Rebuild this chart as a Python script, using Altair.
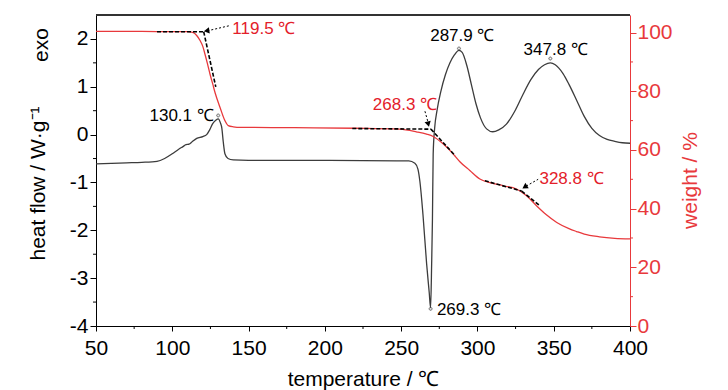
import altair as alt
import pandas as pd

# ---------------- data ----------------
hf_temp = [50, 60, 70, 80, 90, 95, 100, 104, 107, 109, 111, 113, 116, 120, 122.5, 124.5,
           126.5, 128.5, 130.1, 131.5, 132.5, 133.4, 134.5, 136.5, 140, 150, 200, 250, 255,
           259, 261, 262.3, 264.3, 266.7, 268.4, 269.3, 270, 270.5, 271, 272, 273.5, 276,
           279, 282, 285, 287.9, 290, 293, 296, 299, 302, 306, 310, 314, 319, 325, 330, 335,
           340, 344, 347.8, 351, 356, 360, 365, 370, 375, 380, 385, 390, 395, 400]
hf_val = [-0.61, -0.60, -0.59, -0.58, -0.56, -0.50, -0.40, -0.31, -0.25, -0.21, -0.20, -0.15,
          -0.08, -0.04, 0.0, 0.10, 0.23, 0.30, 0.33, 0.25, 0.13, -0.15, -0.40, -0.50, -0.53,
          -0.54, -0.54, -0.55, -0.55, -0.60, -0.72, -0.98, -1.67, -2.70, -3.30, -3.62, -2.70,
          -1.80, -0.40, 0.15, 0.50, 0.90, 1.25, 1.50, 1.67, 1.76, 1.72, 1.45, 1.05, 0.65, 0.35,
          0.12, 0.06, 0.10, 0.22, 0.52, 0.85, 1.15, 1.36, 1.46, 1.50, 1.46, 1.28, 1.05, 0.72,
          0.38, 0.13, -0.02, -0.10, -0.14, -0.17, -0.18]

wt_temp = [50, 80, 100, 110, 113.8, 116, 118.2, 120, 121.4, 123, 124.7, 126.5, 128, 131.3,
           134.5, 136.7, 140, 145, 180, 220, 249, 260, 266.7, 271, 277.7, 284.2, 288.5, 295,
           301.6, 308.2, 316.9, 325.6, 332.2, 338.7, 345, 352, 360, 365, 370, 380, 390, 400]
wt_val = [100.4, 100.4, 100.3, 100.3, 100.0, 99.0, 97.3, 95.3, 92.7, 89.5, 85.9, 82.5, 79.6,
          74.5, 70.0, 68.3, 67.9, 67.7, 67.6, 67.4, 67.1, 66.2, 65.4, 64.6, 62.0, 58.6, 56.0,
          53.0, 50.1, 48.9, 47.8, 46.7, 44.4, 41.0, 38.0, 35.3, 33.2, 32.2, 31.3, 30.4, 29.9,
          29.7]

# onset tangent constructions (weight scale)
tan_seg = ["a", "a", "b", "b", "c", "c", "d", "d", "e", "e", "f", "f"]
tan_temp = [90, 120.6, 120.6, 128.5, 218, 269.5, 269.5, 285.5, 304.9, 329, 329, 341]
tan_wt = [100.3, 100.3, 100.3, 81.5, 67.3, 67.1, 67.1, 58.0, 49.5, 46.0, 46.0, 41.0]

# arrows (weight scale)
arr_seg = ["a", "a", "b", "b", "c", "c"]
arr_temp = [137.8, 123.0, 265.6, 267.6, 339.8, 332.0]
arr_wt = [102.4, 100.6, 73.2, 69.5, 50.0, 47.7]
head_temp = [122.5, 267.8, 331.0]
head_wt = [100.6, 68.8, 47.4]
head_ang = [262, 166, 238]

# labels
red_lab = ["119.5 ℃", "268.3 ℃", "328.8 ℃"]
red_temp = [160.0, 252.5, 361.7]
red_wt = [101.3, 75.4, 50.0]

blk_lab = ["130.1 ℃", "287.9 ℃", "347.8 ℃", "269.3 ℃"]
blk_temp = [106.1, 290.1, 351.3, 294.5]
blk_hf = [0.38, 2.06, 1.77, -3.67]

mark_temp = [130.1, 287.9, 347.8, 269.3]
mark_hf = [0.40, 1.80, 1.59, -3.64]

x_minor = [75, 125, 175, 225, 275, 325, 375]
hf_minor = [-3.5, -2.5, -1.5, -0.5, 0.5, 1.5]
wt_minor = [10, 30, 50, 70, 90]

# ---------------- styling ----------------
AX_FONT = "Liberation Sans, Arial"
TXT_FONT = "Liberation Sans, Arial"
BLACK = "#3c3c3c"
RED = "#e8393c"
RED_TXT = "#e3202a"
W, H = 534, 311
AX_FS = 21
MINUS = "replace(datum.label, '\u2212', '-')"

xs = alt.Scale(domain=[50, 400], nice=False, zero=False)
hs = alt.Scale(domain=[-4, 2.5], nice=False, zero=False)
ws = alt.Scale(domain=[0, 106], nice=False, zero=False)

x_axis = alt.Axis(values=[50, 100, 150, 200, 250, 300, 350, 400], title="temperature / ℃",
                  grid=False, domainColor="black", tickColor="black", tickSize=5,
                  labelFont=AX_FONT, labelFontSize=AX_FS, labelColor="black", labelPadding=6,
                  labelFlush=False, labelOverlap=False,
                  titleFont=AX_FONT, titleFontSize=AX_FS, titleFontWeight="normal",
                  titleColor="black", titleY=53, titleBaseline="middle")

hf_df = pd.DataFrame({"temp": hf_temp, "hf": hf_val})
wt_df = pd.DataFrame({"temp": wt_temp, "wt": wt_val})
tan_df = pd.DataFrame({"temp": tan_temp, "wt": tan_wt, "seg": tan_seg})
arr_df = pd.DataFrame({"temp": arr_temp, "wt": arr_wt, "seg": arr_seg})
head_df = pd.DataFrame({"temp": head_temp, "wt": head_wt, "ang": head_ang})
red_df = pd.DataFrame({"temp": red_temp, "wt": red_wt, "lab": red_lab})
blk_df = pd.DataFrame({"temp": blk_temp, "hf": blk_hf, "lab": blk_lab})
mk_df = pd.DataFrame({"temp": mark_temp, "hf": mark_hf})
xm_df = pd.DataFrame({"temp": x_minor})
hm_df = pd.DataFrame({"hf": hf_minor})
wm_df = pd.DataFrame({"wt": wt_minor})

# ---------------- heat flow (left axis) ----------------
hf_line = alt.Chart(hf_df).mark_line(color=BLACK, strokeWidth=1.3, interpolate="monotone").encode(
    x=alt.X("temp:Q", scale=xs, axis=x_axis),
    y=alt.Y("hf:Q", scale=hs,
            axis=alt.Axis(values=[-4, -3, -2, -1, 0, 1, 2], title="heat flow / W·g⁻¹",
                          orient="left", grid=False, domainColor="black", tickColor="black",
                          tickSize=6, labelFont=AX_FONT, labelFontSize=AX_FS, labelColor="black",
                          labelPadding=2, labelExpr=MINUS, labelFlush=False,
                          titleFont=AX_FONT, titleFontSize=AX_FS,
                          titleFontWeight="normal", titleColor="black", titleX=-58, titleY=168,
                          titleBaseline="middle", titleAlign="center", titleAngle=270)),
)
hf_marks = alt.Chart(mk_df).mark_point(shape="cross", size=10, color=BLACK, strokeWidth=0.8).encode(
    x=alt.X("temp:Q", scale=xs), y=alt.Y("hf:Q", scale=hs))
hf_text = alt.Chart(blk_df).mark_text(font=TXT_FONT, fontSize=17, color="black",
                                      baseline="middle", align="center").encode(
    x=alt.X("temp:Q", scale=xs), y=alt.Y("hf:Q", scale=hs), text="lab:N")
hf_minor_t = alt.Chart(hm_df).mark_rule(color="black").encode(
    y=alt.Y("hf:Q", scale=hs), x=alt.value(-3), x2=alt.value(0))
x_minor_t = alt.Chart(xm_df).mark_rule(color="black").encode(
    x=alt.X("temp:Q", scale=xs), y=alt.value(H), y2=alt.value(H + 3))
top_border = alt.Chart(xm_df).mark_rule(color="#333333").encode(
    x=alt.value(0), x2=alt.value(W), y=alt.value(0))
exo = alt.Chart(xm_df.head(1)).mark_text(text="exo", font=AX_FONT, fontSize=AX_FS, angle=270,
                                         color="black", baseline="middle").encode(
    x=alt.value(-54), y=alt.value(30))

heat = alt.layer(hf_line, hf_marks, hf_text, hf_minor_t, x_minor_t, top_border, exo)

# ---------------- weight (right axis) ----------------
wt_line = alt.Chart(wt_df).mark_line(color=RED, strokeWidth=1.3, interpolate="monotone").encode(
    x=alt.X("temp:Q", scale=xs),
    y=alt.Y("wt:Q", scale=ws,
            axis=alt.Axis(values=[0, 20, 40, 60, 80, 100], title="weight / %", orient="right",
                          grid=False, domainColor=RED, tickColor=RED, tickSize=6,
                          labelFont=AX_FONT, labelFontSize=AX_FS, labelColor=RED, labelPadding=1,
                          labelFlush=False,
                          titleFont=AX_FONT, titleFontSize=AX_FS, titleFontWeight="normal",
                          titleColor=RED, titleX=60, titleY=165, titleBaseline="middle",
                          titleAlign="center", titleAngle=270)),
)
tan_lines = alt.Chart(tan_df).mark_line(color="black", strokeWidth=1.6, strokeDash=[4, 2]).encode(
    x=alt.X("temp:Q", scale=xs), y=alt.Y("wt:Q", scale=ws), detail="seg:N")
arr_lines = alt.Chart(arr_df).mark_line(color="black", strokeWidth=1, strokeDash=[2, 2]).encode(
    x=alt.X("temp:Q", scale=xs), y=alt.Y("wt:Q", scale=ws), detail="seg:N")
heads = alt.Chart(head_df).mark_point(shape="triangle-up", filled=True, size=40, color="black",
                                      opacity=1).encode(
    x=alt.X("temp:Q", scale=xs), y=alt.Y("wt:Q", scale=ws), angle=alt.Angle("ang:Q", scale=None))
red_text = alt.Chart(red_df).mark_text(font=TXT_FONT, fontSize=17, color=RED_TXT,
                                       baseline="middle", align="center").encode(
    x=alt.X("temp:Q", scale=xs), y=alt.Y("wt:Q", scale=ws), text="lab:N")
wt_minor_t = alt.Chart(wm_df).mark_rule(color=RED).encode(
    y=alt.Y("wt:Q", scale=ws), x=alt.value(W), x2=alt.value(W + 3))

weight = alt.layer(wt_line, tan_lines, arr_lines, heads, red_text, wt_minor_t)

chart = alt.layer(heat, weight).resolve_scale(y="independent").properties(
    width=W, height=H,
    autosize=alt.AutoSizeParams(type="none"),
    padding={"left": 88, "top": 7, "right": 90, "bottom": 72},
).configure_view(stroke=None).configure(background="white")

chart.save("out.html", embed_options={"renderer": "svg", "actions": False})
